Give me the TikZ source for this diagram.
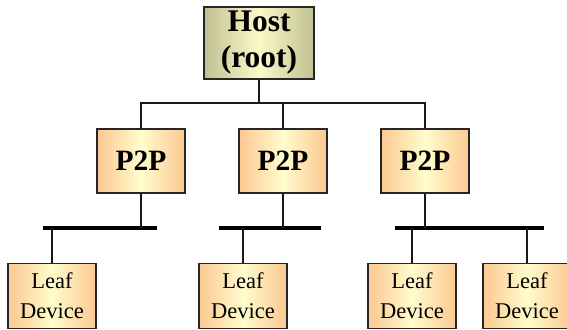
\documentclass[tikz,border=0pt]{standalone}
\usepackage{fontspec}
\setmainfont{Liberation Serif}
\usetikzlibrary{positioning}

\definecolor{rootedge}{RGB}{192,192,146}
\definecolor{rootmid}{RGB}{252,249,200}
\definecolor{boxedge}{RGB}{252,200,145}
\definecolor{boxmid}{RGB}{255,252,205}

\begin{document}
\begin{tikzpicture}[
  x=1pt, y=-1pt,
  box/.style = {draw=black!85, line width=1.2pt, align=center, inner sep=0pt,
    left color=boxedge, right color=boxedge, middle color=boxmid},
  rootbox/.style = {box, minimum width=110pt, minimum height=72pt,
    left color=rootedge, right color=rootedge, middle color=rootmid,
    font=\fontsize{31.5}{36}\selectfont\bfseries},
  hubbox/.style = {box, minimum width=88pt, minimum height=64pt,
    font=\fontsize{29.5}{34}\selectfont\bfseries},
  leafbox/.style = {box, minimum width=88pt, minimum height=65pt,
    font=\fontsize{22.5}{30}\selectfont},
  wire/.style = {line width=1.2pt, black!90},
  bus/.style = {line width=4pt}
]
\useasboundingbox (0,0) rectangle (567,329);

\node[rootbox] (host) at (259,43) {Host\\(root)};
\node[hubbox] (hub1) at (141,161) {P2P};
\node[hubbox] (hub2) at (283,161) {P2P};
\node[hubbox] (hub3) at (425,161) {P2P};
\node[leafbox] (leaf1) at (52,296) {Leaf\\Device};
\node[leafbox] (leaf2) at (243,296) {Leaf\\Device};
\node[leafbox] (leaf3) at (412,296) {Leaf\\Device};
\node[leafbox] (leaf4) at (527,296) {Leaf\\Device};

% host to the P2P hubs
\coordinate (hj) at (259,103);
\draw[wire] (host) -- (hj);
\draw[wire] (hub1.north) |- (hj) -| (hub3.north);
\draw[wire] (hub2.north) -- (hub2.north |- hj);

% buses
\coordinate (bus1l) at (43,228);  \coordinate (bus1r) at (157,228);
\coordinate (bus2l) at (219,228); \coordinate (bus2r) at (321,228);
\coordinate (bus3l) at (395,228); \coordinate (bus3r) at (544,228);
\draw[bus] (bus1l) -- (bus1r);
\draw[bus] (bus2l) -- (bus2r);
\draw[bus] (bus3l) -- (bus3r);

\draw[wire] (hub1) -- (hub1 |- bus1l);
\draw[wire] (hub2) -- (hub2 |- bus2l);
\draw[wire] (hub3) -- (hub3 |- bus3l);

\draw[wire] (leaf1) -- (leaf1 |- bus1l);
\draw[wire] (leaf2) -- (leaf2 |- bus2l);
\draw[wire] (leaf3) -- (leaf3 |- bus3l);
\draw[wire] (leaf4) -- (leaf4 |- bus3l);
\end{tikzpicture}
\end{document}
